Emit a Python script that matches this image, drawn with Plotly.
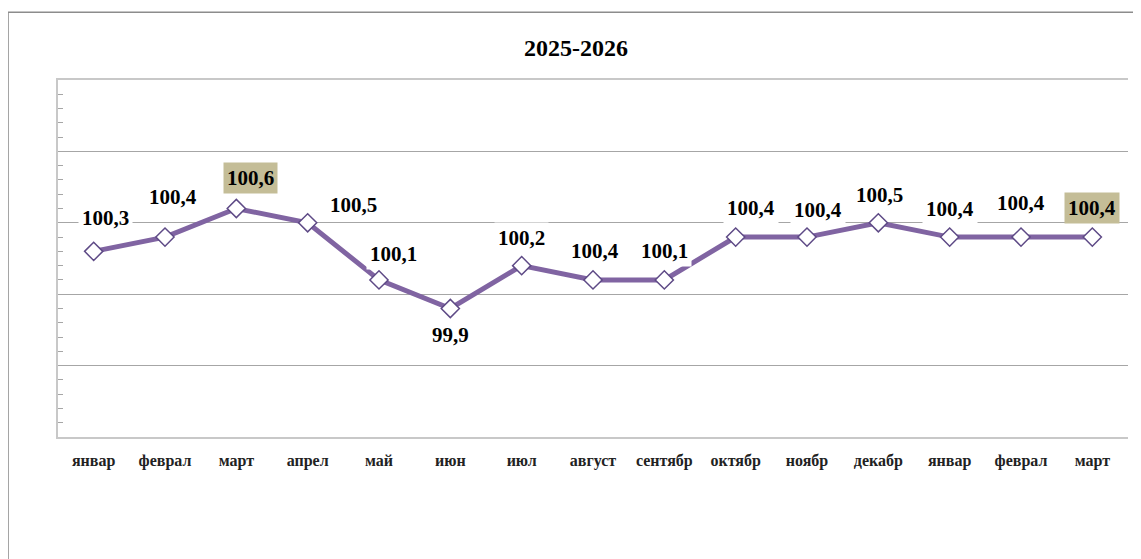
import plotly.graph_objects as go

# ---- data ----
months = ["январ", "феврал", "март", "апрел", "май", "июн", "июл", "август",
          "сентябр", "октябр", "ноябр", "декабр", "январ", "феврал", "март"]
values = [100.3, 100.4, 100.6, 100.5, 100.1, 99.9, 100.2, 100.1,
          100.1, 100.4, 100.4, 100.5, 100.4, 100.4, 100.4]
labels = ["100,3", "100,4", "100,6", "100,5", "100,1", "99,9", "100,2", "100,4",
          "100,1", "100,4", "100,4", "100,5", "100,4", "100,4", "100,4"]
highlighted = [2, 14]
title_text = "2025-2026"

# label offsets in pixels (dx, dy) relative to each point
label_offsets = [(12, -33), (8, -40), (14, -31), (46, -18), (14, -26), (0, 27),
                 (0, -28), (2, -29), (0, -29), (15, -29), (11, -27), (1, -28),
                 (0, -28), (0, -34), (0, -29)]

x_idx = list(range(len(months)))

FONT = "Liberation Serif, Times New Roman, serif"
LINE_COLOR = "#8064A2"
HL_COLOR = "#C4BD97"

fig = go.Figure()
fig.add_trace(go.Scatter(
    x=x_idx, y=values, mode="lines+markers",
    line=dict(color=LINE_COLOR, width=5),
    marker=dict(symbol="diamond", size=14, color="white",
                line=dict(color="#5E4A86", width=1.5)),
    hoverinfo="skip", showlegend=False,
))

for i, (v, lab) in enumerate(zip(values, labels)):
    dx, dy = label_offsets[i]
    fig.add_annotation(
        x=i, y=v, xref="x", yref="y", text="<b>%s</b>" % lab,
        showarrow=False, xshift=dx, yshift=-dy,
        font=dict(family=FONT, size=21, color="black"),
        bgcolor=HL_COLOR if i in highlighted else "white",
        borderpad=3,
    )

# outer chart frame (top/left visible)
fig.add_shape(type="rect", xref="paper", yref="paper",
              x0=-0.0467, x1=1.2, y0=-1.0, y1=1.19,
              line=dict(color="#8C8C8C", width=1.5), fillcolor="rgba(0,0,0,0)",
              layer="below")

fig.update_layout(
    width=1141, height=559,
    margin=dict(l=50, r=21, t=72, b=130),
    paper_bgcolor="white", plot_bgcolor="white",
    title=dict(text="<b>%s</b>" % title_text, x=568 / 1141, xanchor="center",
               y=1 - 40 / 559, yanchor="middle", yref="container",
               font=dict(family=FONT, size=24, color="black")),
    xaxis=dict(
        tickmode="array", tickvals=x_idx, ticktext=["<b>%s</b>" % m for m in months],
        range=[-0.5, len(months) - 0.5],
        showgrid=False, zeroline=False,
        showline=True, linecolor="#C8C8C8", linewidth=2, mirror=True,
        ticks="", ticklabelstandoff=8,
        tickfont=dict(family=FONT, size=16, color="#222222"),
    ),
    yaxis=dict(
        range=[99.0, 101.5], dtick=0.5, tick0=99.0,
        showgrid=True, gridcolor="#A6A6A6", gridwidth=1,
        zeroline=False, showticklabels=False,
        showline=True, linecolor="#C8C8C8", linewidth=2,
        ticks="inside", ticklen=5, tickcolor="#A6A6A6",
        minor=dict(dtick=0.1, ticks="inside", ticklen=5, tickcolor="#A6A6A6",
                   showgrid=False),
    ),
)

fig.write_html("out.html")
